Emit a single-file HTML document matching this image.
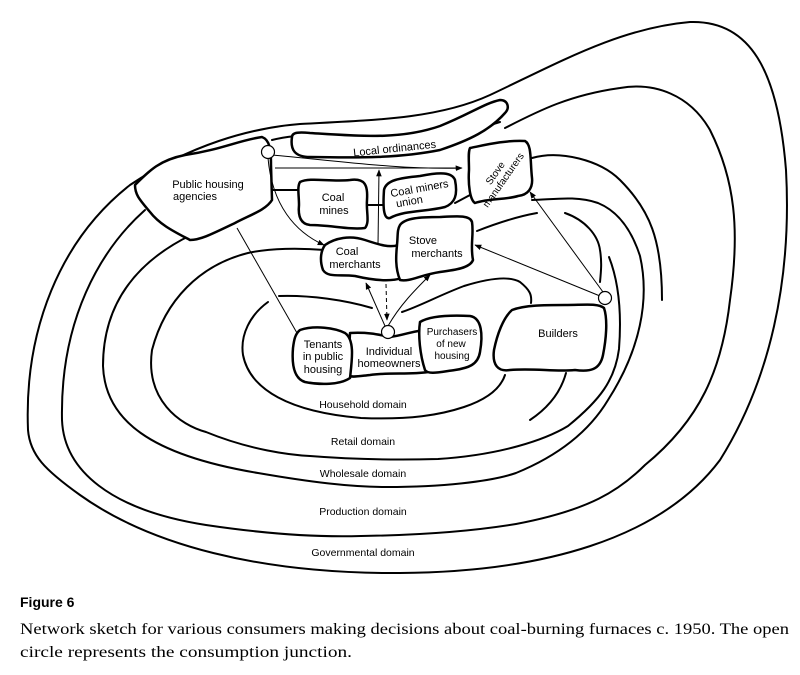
<!DOCTYPE html>
<html><head><meta charset="utf-8"><style>
html,body{margin:0;padding:0;background:#fff;width:800px;height:675px;overflow:hidden}
svg{display:block}
</style></head><body>
<svg width="800" height="675" viewBox="0 0 800 675" xmlns="http://www.w3.org/2000/svg">
<defs><marker id="a" viewBox="0 0 10 10" refX="9" refY="5" markerWidth="7" markerHeight="7" orient="auto"><path d="M0,1 L10,5 L0,9 z" fill="#000"/></marker></defs>
<g fill="none" stroke="#000" stroke-width="2" stroke-linecap="round">
<!-- outer governmental -->
<path d="M28 430 C24 330 60 240 130 185 C190 145 250 128 300 124 C380 120 440 118 490 95 C560 62 620 28 690 22 C750 20 778 70 786 170 C792 280 770 380 720 460 C660 540 540 572 400 573 C260 574 150 545 80 495 C45 470 30 455 28 430 Z"/>
<!-- production boundary -->
<path d="M145 210 C100 250 60 320 62 420 C64 470 110 510 206 525 C280 536 330 537 361 536 C430 535 480 530 516 524 C590 510 620 490 645 465 C700 420 722 370 730 300 C740 230 735 180 710 130 C690 95 655 82 620 88 C570 95 540 110 505 128"/>
<path d="M272 140 C320 128 380 140 430 138 C460 136 480 128 500 122"/>
<!-- wholesale boundary -->
<path d="M191 235 C140 260 103 300 103 366 C105 420 150 455 258 473 C310 482 350 487 387 487 C440 487 490 482 516 473 C560 455 590 430 608 400 C640 350 650 300 640 256 C630 225 615 210 598 203 C575 195 550 200 532 200"/>
<path d="M272 190 L298 190 M368 205 L383 205 M455 203 L470 195"/>
<path d="M532 158 C560 150 600 160 620 180 C650 210 662 240 662 300"/>
<!-- retail boundary -->
<path d="M325 250 C300 248 270 248 248 253 C200 265 165 300 152 350 C145 400 180 425 206 432 C250 450 290 455 310 456 C360 460 400 460 438 459 C500 455 545 440 568 426 C600 400 615 380 619 349 C622 310 618 280 609 257"/>
<path d="M477 231 C500 222 520 216 537 213"/>
<path d="M565 213 C585 220 598 235 600 250 C602 262 601 272 600 282"/>
<!-- household boundary -->
<path d="M279 296 C310 295 345 300 372 308"/>
<path d="M402 312 C420 306 440 295 464 286 C490 278 510 276 520 282 C530 290 532 295 531 303"/>
<path d="M268 302 C250 315 240 335 243 355 C250 390 290 412 361 418 C410 420 440 415 464 407 C485 400 500 390 505 375"/>
<path d="M566 373 C560 395 545 410 530 420"/>
</g>
<g fill="#fff" stroke="#000" stroke-width="2.5" stroke-linejoin="round">
<!-- PHA -->
<path d="M135 185 C150 170 160 160 185 155 C220 150 240 140 262 137 C270 140 271 150 271 165 L272 200 C266 210 250 215 235 223 C210 235 200 240 190 240 C175 232 160 225 150 212 C140 200 135 195 135 185 Z"/>
<!-- Local ordinances -->
<path d="M292 137 C292 132 300 132 310 133 C360 136 400 140 440 126 C470 114 485 103 500 100 C508 100 510 108 505 113 C490 130 470 140 440 150 C400 158 360 158 310 157 C295 157 290 150 292 137 Z"/>
<!-- Coal mines -->
<path d="M300 182 C310 177 330 182 350 180 C365 178 368 185 367 200 C366 212 370 222 365 228 C350 230 330 225 310 225 C300 224 298 215 299 205 C299 195 297 187 300 182 Z"/>
<!-- Coal miners union -->
<path d="M384 190 C386 180 400 178 420 176 C440 172 452 172 455 180 C458 195 455 203 445 207 C425 212 405 210 390 218 C383 220 383 205 384 190 Z"/>
<!-- Stove manufacturers -->
<path d="M470 148 C485 145 505 140 525 141 C532 145 530 160 532 178 C533 188 528 195 518 196 C505 200 490 198 475 203 C470 200 468 185 469 170 C469 160 468 152 470 148 Z"/>
<!-- Coal merchants -->
<path d="M325 245 C335 238 350 235 365 240 C380 245 390 248 398 245 L402 278 C390 282 372 280 355 276 C340 274 328 278 323 270 C320 262 320 252 325 245 Z"/>
<!-- Stove merchants -->
<path d="M400 225 C405 218 420 217 440 217 C458 216 470 215 472 222 C474 235 470 245 473 260 C470 268 455 270 440 272 C420 275 410 282 400 280 C395 268 396 255 397 245 C398 235 397 230 400 225 Z"/>
<!-- Builders -->
<path d="M512 310 C525 305 545 305 565 305 C585 305 598 303 604 308 C608 320 606 340 603 355 C600 370 590 372 575 370 C555 372 535 368 510 370 C498 372 492 365 494 350 C497 335 503 318 512 310 Z"/>
<!-- Individual homeowners -->
<path d="M350 333 C370 332 380 335 390 337 C405 335 415 330 428 330 L428 372 C410 375 390 372 370 375 C360 376 350 378 348 375 Z"/>
<!-- Tenants -->
<path d="M300 330 C315 325 335 328 345 333 C355 340 352 360 350 378 C340 385 320 385 305 382 C292 378 292 360 293 348 C294 340 295 334 300 330 Z"/>
<!-- Purchasers -->
<path d="M420 322 C430 316 450 315 470 316 C482 318 483 335 480 352 C478 365 468 368 455 370 C440 372 428 375 425 370 C420 355 418 335 420 322 Z"/>
</g>
<g fill="none" stroke="#000" stroke-width="1">
<path d="M272 155 C330 160 400 170 462 168" marker-end="url(#a)"/>
<path d="M275 168 L462 168"/>
<path d="M268 158 C272 205 295 232 324 245" marker-end="url(#a)"/>
<path d="M237 228 L297 333"/>
<path d="M378 245 L379 170" marker-end="url(#a)"/>
<path d="M385 326 L366 283" marker-end="url(#a)"/>
<path d="M388 326 C400 305 415 290 430 275" marker-end="url(#a)"/>
<path d="M386 284 L387 320" stroke-dasharray="4,3" marker-end="url(#a)"/>
<path d="M603 292 L530 192" marker-end="url(#a)"/>
<path d="M600 296 L475 245" marker-end="url(#a)"/>
</g>
<g fill="#fff" stroke="#000" stroke-width="1.2">
<circle cx="268" cy="152" r="6.5"/><circle cx="388" cy="332" r="6.5"/><circle cx="605" cy="298" r="6.5"/>
</g>
<g font-family="Liberation Sans, sans-serif" font-size="11" fill="#000" text-anchor="middle">
<text x="208" y="188">Public housing</text><text x="195" y="200">agencies</text>
<text x="395" y="152" transform="rotate(-6 395 152)">Local ordinances</text>
<text x="333" y="201">Coal</text><text x="334" y="214">mines</text>
<text x="420" y="192" transform="rotate(-10 420 192)">Coal miners</text><text x="410" y="205" transform="rotate(-10 410 205)">union</text>
<text x="498" y="175" font-size="10" transform="rotate(-55 498 175)">Stove</text><text x="506" y="182" font-size="10" transform="rotate(-55 506 182)">manufacturers</text>
<text x="347" y="255">Coal</text><text x="355" y="268">merchants</text>
<text x="423" y="244">Stove</text><text x="437" y="257">merchants</text>
<text x="323" y="348">Tenants</text><text x="323" y="360">in public</text><text x="323" y="373">housing</text>
<text x="389" y="355">Individual</text><text x="389" y="367">homeowners</text>
<text x="452" y="335" font-size="10">Purchasers</text><text x="451" y="347" font-size="10">of new</text><text x="452" y="359" font-size="10">housing</text>
<text x="558" y="337">Builders</text>
<text x="363" y="408" font-size="10.5">Household domain</text>
<text x="363" y="445" font-size="10.5">Retail domain</text>
<text x="363" y="477" font-size="10.5">Wholesale domain</text>
<text x="363" y="515" font-size="10.5">Production domain</text>
<text x="363" y="556" font-size="10.5">Governmental domain</text>
</g>
<text x="20" y="607" font-family="Liberation Sans, sans-serif" font-weight="bold" font-size="14">Figure 6</text>
<g font-family="Liberation Serif, serif" font-size="16">
<text x="20" y="634" textLength="769" lengthAdjust="spacingAndGlyphs">Network sketch for various consumers making decisions about coal-burning furnaces c. 1950. The open</text>
<text x="20" y="657" textLength="332" lengthAdjust="spacingAndGlyphs">circle represents the consumption junction.</text>
</g>
</svg>
</body></html>
